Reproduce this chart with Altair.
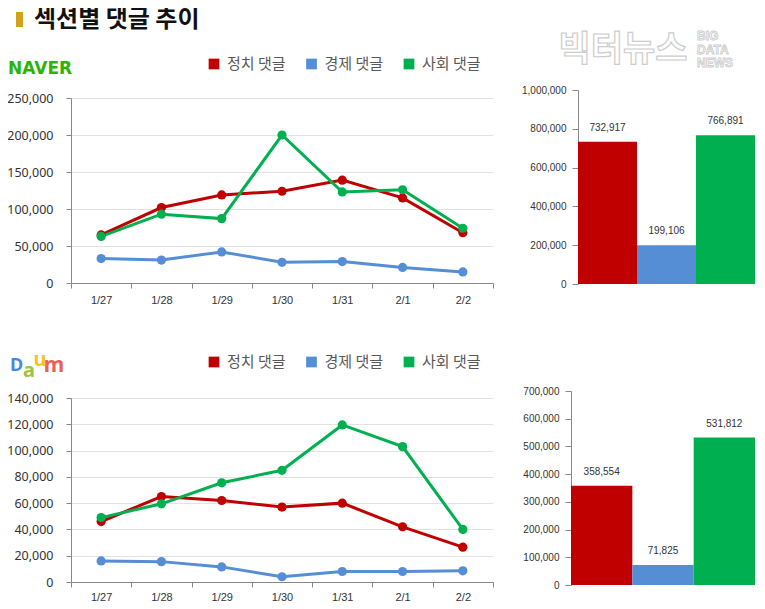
import altair as alt
import pandas as pd

# ---------------- data ----------------
dates = ["1/27", "1/28", "1/29", "1/30", "1/31", "2/1", "2/2"]
series = ["정치 댓글", "경제 댓글", "사회 댓글"]
colors = ["#C00000", "#558ED5", "#00B050"]

naver_politics = [65000, 102000, 119000, 124000, 139000, 115000, 68000]
naver_economy = [33000, 31000, 42000, 28000, 29000, 21000, 15000]
naver_society = [63000, 93000, 87000, 200000, 123000, 126000, 74000]
naver_totals = [732917, 199106, 766891]

daum_politics = [46000, 65000, 62000, 57000, 60000, 42000, 26500]
daum_economy = [16000, 15500, 11500, 4000, 8000, 8000, 8500]
daum_society = [49000, 59500, 75500, 85000, 119500, 103000, 40000]
daum_totals = [358554, 71825, 531812]

naver_line_ticks = [0, 50000, 100000, 150000, 200000, 250000]
naver_bar_ticks = [0, 200000, 400000, 600000, 800000, 1000000]
daum_line_ticks = [0, 20000, 40000, 60000, 80000, 100000, 120000, 140000]
daum_bar_ticks = [0, 100000, 200000, 300000, 400000, 500000, 600000, 700000]

title_text = "섹션별 댓글 추이"
watermark_kr = "빅터뉴스"
watermark_en = ["BIG", "DATA", "NEWS"]

W, H = 749, 593
KR = "Noto Sans CJK KR"


def line_panel(vals, ticks, x_range, y_range, x_off, y_off, x_label_pad):
    rows = []
    for s, v in zip(series, vals):
        for i, (d, val) in enumerate(zip(dates, v)):
            rows.append({"date": d, "series": s, "value": val, "idx": i})
    df = pd.DataFrame(rows)
    xs = alt.X(
        "date:N", sort=dates,
        scale=alt.Scale(type="band", domain=dates, range=x_range,
                        paddingInner=0, paddingOuter=0),
        axis=alt.Axis(orient="bottom", offset=x_off, title=None, tickBand="extent",
                      grid=False, labelAngle=0, tickSize=5, domainColor="#888888",
                      tickColor="#888888", labelFont="Liberation Sans", labelFontSize=11,
                      labelColor="#333333", labelPadding=x_label_pad),
    )
    ys = alt.Y(
        "value:Q",
        scale=alt.Scale(domain=[ticks[0], ticks[-1]], range=y_range, nice=False, zero=True),
        axis=alt.Axis(orient="left", offset=y_off, title=None, values=ticks, format=",d",
                      grid=True, gridColor="#e2e2e2", tickSize=5, domainColor="#888888",
                      tickColor="#888888", labelFont="Noto Sans", labelFontSize=12.5,
                      labelColor="#333333", labelPadding=13),
    )
    color = alt.Color("series:N", scale=alt.Scale(domain=series, range=colors), legend=None)
    base = alt.Chart(df)
    line = base.mark_line(strokeWidth=3).encode(
        x=xs, y=ys, color=color, order=alt.Order("idx:Q"))
    pts = base.mark_circle(size=85, opacity=1).encode(x=xs, y=ys, color=color)
    return alt.layer(line, pts)


def legend_panel(y):
    df = pd.DataFrame({"series": series, "color": colors})
    xs = alt.X("series:N", sort=series, bandPosition=0,
               scale=alt.Scale(type="band", domain=series, range=[201, 493.5],
                               paddingInner=0, paddingOuter=0),
               axis=None)
    sq = alt.Chart(df).mark_square(size=115, opacity=1, xOffset=5).encode(
        x=xs, y=alt.value(y), color=alt.Color("color:N", scale=None, legend=None))
    tx = alt.Chart(df).mark_text(align="left", baseline="middle", font=KR, fontSize=15,
                                 color="#595959", xOffset=18).encode(
        x=xs, y=alt.value(y), text="series:N")
    return alt.layer(sq, tx)


def bar_panel(totals, ticks, x_range, y_range, y_off):
    df = pd.DataFrame({"series": series, "total": totals})
    xs = alt.X("series:N", sort=series,
               scale=alt.Scale(type="band", domain=series, range=x_range,
                               paddingInner=0, paddingOuter=0),
               axis=None)
    ys = alt.Y("total:Q",
               scale=alt.Scale(domain=[0, ticks[-1]], range=y_range, nice=False),
               axis=alt.Axis(orient="left", offset=y_off, title=None, values=ticks,
                             format=",d", grid=False, tickSize=6, domainColor="#888888",
                             tickColor="#888888", labelFont="Liberation Sans",
                             labelFontSize=10, labelColor="#333333", labelPadding=6))
    base = alt.Chart(df)
    bars = base.mark_bar().encode(
        x=xs, y=ys,
        color=alt.Color("series:N", scale=alt.Scale(domain=series, range=colors), legend=None),
    )
    labels = base.mark_text(dy=-14, baseline="middle", font="Liberation Sans",
                            fontSize=10, color="#333333").encode(
        x=xs, y=ys, text=alt.Text("total:Q", format=",d"))
    return alt.layer(bars, labels)


one = pd.DataFrame({"t": [title_text]})

gold_bar = alt.Chart(one).mark_rect(color="#D1A21E").encode(
    x=alt.value(8), x2=alt.value(15), y=alt.value(4), y2=alt.value(19))
title = alt.Chart(one).mark_text(font=KR, fontWeight="bold", fontSize=24, align="left",
                                 baseline="top", color="#111111").encode(
    x=alt.value(26), y=alt.value(0), text="t:N")

naver_logo = alt.Chart(pd.DataFrame({"t": ["NAVER"]})).mark_text(
    font="DejaVu Sans", fontWeight="bold", fontSize=17, align="left",
    baseline="middle", color="#2DB400").encode(x=alt.value(0), y=alt.value(61), text="t:N")

daum_letters = []
for ch, cx, cy, col, fs in [("D", 8.5, 358, "#4A86E8", 18), ("a", 21, 363, "#9BC53D", 20),
                            ("u", 32, 352, "#F5C518", 20), ("m", 46, 358, "#EE6055", 21)]:
    daum_letters.append(
        alt.Chart(pd.DataFrame({"t": [ch]})).mark_text(
            font="Noto Sans", fontWeight="bold", fontSize=fs, align="center",
            baseline="middle", color=col).encode(x=alt.value(cx), y=alt.value(cy), text="t:N"))

wm1 = alt.Chart(pd.DataFrame({"t": [watermark_kr]})).mark_text(
    font=KR, fontWeight="bold", fontSize=35, align="center", baseline="middle",
    fill="#ffffff", stroke="#cdcdcd", strokeWidth=1.2).encode(
    x=alt.value(615), y=alt.value(42), text="t:N")
wm2 = alt.Chart(pd.DataFrame({"t": [0]})).mark_text(
    font="Liberation Sans", fontWeight="bold", fontSize=12, align="left", baseline="top",
    lineHeight=13.5, fill="#ffffff", stroke="#cdcdcd", strokeWidth=0.9).encode(
    x=alt.value(689), y=alt.value(23), text=alt.value(watermark_en))

naver_line = line_panel([naver_politics, naver_economy, naver_society], naver_line_ticks,
                        [63, 485], [275, 90], 275 - H, -63, 6)
naver_bar = bar_panel(naver_totals, naver_bar_ticks, [570, 747], [276, 82], -570)
daum_line = line_panel([daum_politics, daum_economy, daum_society], daum_line_ticks,
                       [63, 485], [574, 390], 574 - H, -63, 4)
daum_bar = bar_panel(daum_totals, daum_bar_ticks, [563, 747], [577, 383], -563)

chart = alt.layer(
    gold_bar, title, naver_logo, *daum_letters, wm1, wm2,
    legend_panel(56), legend_panel(354),
    naver_line, naver_bar, daum_line, daum_bar,
).resolve_scale(
    x="independent", y="independent", color="independent"
).properties(
    width=W, height=H, padding=0, autosize=alt.AutoSizeParams(type="none"),
    background="white",
).configure_view(strokeWidth=0)

chart.save("out.html", embed_options={"renderer": "svg", "actions": False})
